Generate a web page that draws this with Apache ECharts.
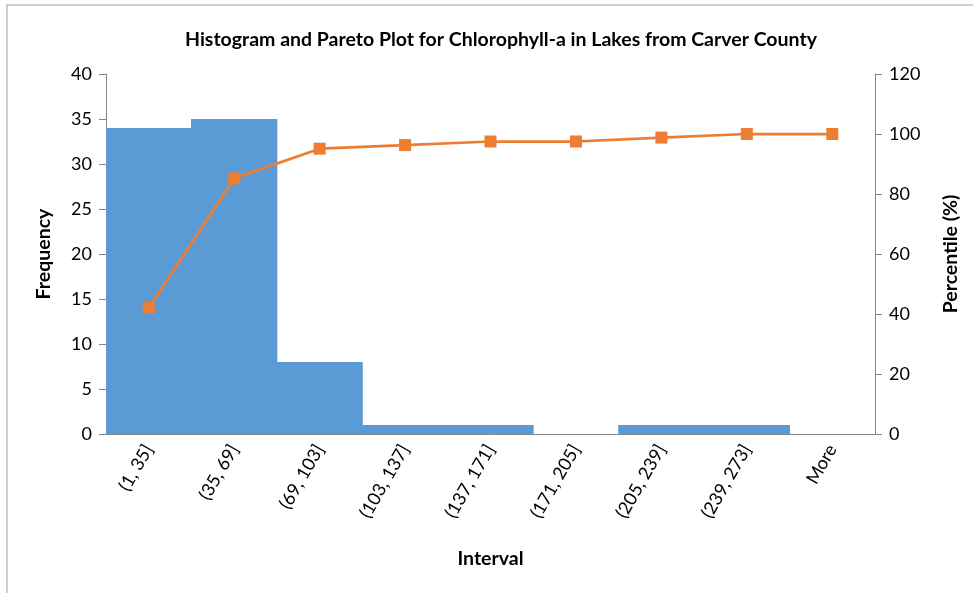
<!DOCTYPE html>
<html lang="en">
<head>
    <meta charset="UTF-8">
    <title>Histogram and Pareto Plot</title>
    <script src="https://cdn.jsdelivr.net/npm/echarts@6/dist/echarts.min.js"></script>
</head>
<body style="height: 100%; margin: 0; background: #fff;">
<div id="container" style="width: 973px; height: 593px;"></div>
<script type="text/javascript">

    // bins of the histogram
    let intervals = ['(1, 35]', '(35, 69]', '(69, 103]', '(103, 137]', '(137, 171]',
        '(171, 205]', '(205, 239]', '(239, 273]', 'More'];
    // lake counts per bin
    let frequency = [34, 35, 8, 1, 1, 0, 1, 1, 0];
    // cumulative percent
    let percentile = [42.0, 85.2, 95.1, 96.3, 97.5, 97.5, 98.8, 100, 100];

    let axisGray = '#868686';
    let font = 'Lato, "Open Sans", sans-serif';

    let myChart = echarts.init(document.getElementById('container'));

    let option = {
        animation: false,
        textStyle: {fontFamily: font},
        title: {
            text: 'Histogram and Pareto Plot for Chlorophyll-a in Lakes from Carver County',
            left: 496,
            textAlign: 'center',
            top: 25,
            textStyle: {fontFamily: font, fontSize: 19.5, fontWeight: 'bold', color: '#000'}
        },
        graphic: [{
            type: 'rect',
            shape: {x: 7, y: 5, width: 990, height: 620},
            style: {fill: 'none', stroke: '#bfbfbf', lineWidth: 1.5},
            silent: true
        }],
        grid: {left: 106, right: 98, top: 74, bottom: 159},
        xAxis: {
            type: 'category',
            data: intervals,
            name: 'Interval',
            nameLocation: 'middle',
            nameGap: 115,
            nameTextStyle: {fontSize: 19.5, fontWeight: 'bold', color: '#000'},
            axisLine: {lineStyle: {color: axisGray}},
            axisTick: {length: 7, lineStyle: {color: axisGray}},
            axisLabel: {rotate: 60, fontSize: 18, color: '#000', margin: 12, interval: 0}
        },
        yAxis: [{
            type: 'value',
            min: 0,
            max: 40,
            interval: 5,
            name: 'Frequency',
            nameLocation: 'middle',
            nameGap: 52,
            nameTextStyle: {fontSize: 19.5, fontWeight: 'bold', color: '#000'},
            splitLine: {show: false},
            axisLine: {show: true, lineStyle: {color: axisGray}},
            axisTick: {show: true, length: 7, lineStyle: {color: axisGray}},
            axisLabel: {fontSize: 18, color: '#000', margin: 14}
        }, {
            type: 'value',
            min: 0,
            max: 120,
            interval: 20,
            name: 'Percentile (%)',
            nameLocation: 'middle',
            nameGap: 66,
            nameTextStyle: {fontSize: 19.5, fontWeight: 'bold', color: '#000'},
            splitLine: {show: false},
            axisLine: {show: true, lineStyle: {color: axisGray}},
            axisTick: {show: true, length: 7, lineStyle: {color: axisGray}},
            axisLabel: {fontSize: 18, color: '#000', margin: 14}
        }],
        series: [{
            type: 'bar',
            name: 'Frequency',
            data: frequency,
            barWidth: '101%',
            itemStyle: {color: '#5B9BD5'}
        }, {
            type: 'line',
            name: 'Percentile',
            yAxisIndex: 1,
            data: percentile,
            symbol: 'rect',
            symbolSize: 12,
            lineStyle: {color: '#ED7D31', width: 2.75},
            itemStyle: {color: '#ED7D31'}
        }]
    };
    myChart.setOption(option, true);

</script>
</body>
</html>
